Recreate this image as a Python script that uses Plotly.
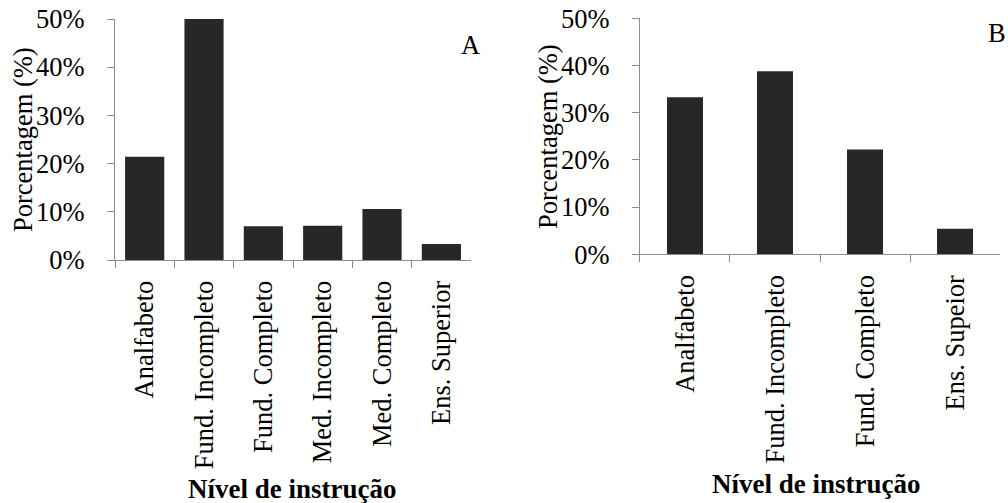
import plotly.graph_objects as go

cats_a = ["Analfabeto", "Fund. Incompleto", "Fund. Completo", "Med. Incompleto", "Med. Completo", "Ens. Superior"]
vals_a = [0.214, 0.500, 0.070, 0.071, 0.106, 0.033]

cats_b = ["Analfabeto", "Fund. Incompleto", "Fund. Completo", "Ens. Supeior"]
vals_b = [0.333, 0.388, 0.222, 0.054]

bar_color = "#272727"
axis_color = "#8c8c8c"
FONT = "Times New Roman, Liberation Serif, serif"
FS = 26.5

fig = go.Figure()
fig.add_trace(go.Bar(x=cats_a, y=vals_a, marker=dict(color=bar_color, line=dict(width=0)),
                     xaxis="x", yaxis="y", showlegend=False))
fig.add_trace(go.Bar(x=cats_b, y=vals_b, marker=dict(color=bar_color, line=dict(width=0)),
                     xaxis="x2", yaxis="y2", showlegend=False, width=0.4))

common_x = dict(showline=True, linecolor=axis_color, linewidth=1.3, ticks="outside",
                tickson="boundaries", ticklen=7, tickcolor=axis_color, tickwidth=1.3,
                tickangle=-90, showgrid=False, zeroline=False, automargin=False,
                tickfont=dict(family=FONT, size=FS, color="black"), ticklabelstandoff=9)
common_y = dict(showline=True, linecolor=axis_color, linewidth=1.3, ticks="outside",
                ticklen=7, tickcolor=axis_color, tickwidth=1.3, range=[0, 0.5],
                dtick=0.1, tickformat=".0%", showgrid=False, zeroline=False, automargin=False,
                tickfont=dict(family=FONT, size=FS, color="black"), ticklabelstandoff=17)

fig.update_layout(
    width=1008, height=503,
    margin=dict(l=0, r=0, t=0, b=0),
    paper_bgcolor="white", plot_bgcolor="white",
    bargap=0.34,
    xaxis=dict(domain=[0.1141, 0.4673], anchor="y", range=[-0.5, 5.5], **common_x),
    yaxis=dict(domain=[0.4831, 0.9622], anchor="x", **common_y),
    xaxis2=dict(domain=[0.6349, 0.9921], anchor="y2", range=[-0.5, 3.5], **common_x),
    yaxis2=dict(domain=[0.4944, 0.9636], anchor="x2", **common_y),
    font=dict(family=FONT, size=FS, color="black"),
)

ann = [
    dict(text="Porcentagem (%)", x=23, y=140, textangle=-90),
    dict(text="Porcentagem (%)", x=548, y=137, textangle=-90),
    dict(text="<b>Nível de instrução</b>", x=292, y=489, size=27),
    dict(text="<b>Nível de instrução</b>", x=816, y=484, size=27),
    dict(text="A", x=470, y=45),
    dict(text="B", x=997, y=33),
]
for a in ann:
    fig.add_annotation(text=a["text"], x=a["x"] / 1008, y=1 - a["y"] / 503,
                       xref="paper", yref="paper", xanchor="center", yanchor="middle",
                       showarrow=False, textangle=a.get("textangle", 0),
                       font=dict(family=FONT, size=a.get("size", FS), color="black"))

fig.write_html("out.html", config={"displayModeBar": False},
               post_script="document.body.style.margin='0px';document.body.style.overflow='hidden';")
